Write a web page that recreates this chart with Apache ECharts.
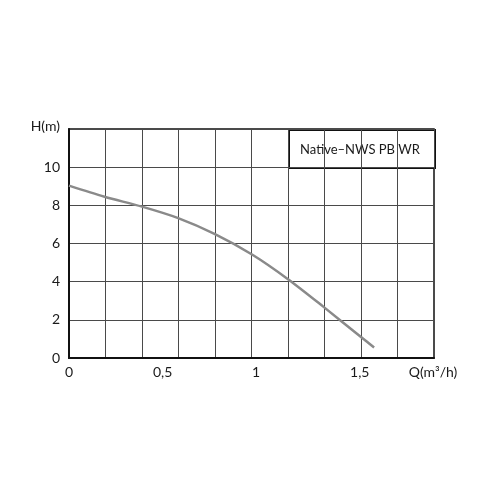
<!DOCTYPE html>
<html>
<head>
<meta charset="utf-8">
<script src="https://cdn.jsdelivr.net/npm/echarts@6/dist/echarts.min.js"></script>
<style>
html,body{margin:0;padding:0;background:#fff;}
#chart{width:500px;height:500px;}
</style>
</head>
<body>
<div id="chart"></div>
<script>
// Flow Q (m³/h) and head H (m) of the pump curve
const flowQ = [0, 0.19, 0.39, 0.58, 0.78, 0.98, 1.17, 1.36, 1.56, 1.63];
const headH = [9.03, 8.45, 7.93, 7.34, 6.49, 5.41, 4.13, 2.68, 1.10, 0.55];
const xTickLabels = {0: '0', 0.5: '0,5', 1: '1', 1.5: '1,5'};
const seriesName = 'Native–NWS PB WR';
const xName = 'Q(m³/h)';
const yName = 'H(m)';

const chart = echarts.init(document.getElementById('chart'), null, {renderer: 'canvas'});
const font = 'Lato';
const txt = '#1a1a1a';
chart.setOption({
  animation: false,
  backgroundColor: '#fff',
  grid: {left: 69, right: 66, top: 129, bottom: 142, show: true, borderColor: '#111', borderWidth: 1.5, backgroundColor: 'transparent'},
  xAxis: [
    {
      type: 'value', min: 0, max: 1.95, interval: 0.5,
      name: xName, nameLocation: 'end', nameGap: -1,
      nameTextStyle: {fontFamily: font, fontSize: 14, color: txt, align: 'center', verticalAlign: 'top', padding: [7, 0, 0, 0]},
      axisLine: {show: true, lineStyle: {color: '#111', width: 2}},
      axisTick: {show: false},
      splitLine: {show: false},
      axisLabel: {
        fontFamily: font, fontSize: 14, color: txt, margin: 7, showMaxLabel: false,
        formatter: v => v === 1.5 ? '{s|' + xTickLabels[v] + '}' : (xTickLabels[v] !== undefined ? xTickLabels[v] : ''),
        rich: {s: {fontFamily: font, fontSize: 14, color: txt, padding: [0, 0, 0, 20]}}
      }
    },
    {
      type: 'value', min: 0, max: 10, interval: 1, position: 'top',
      axisLine: {show: false}, axisTick: {show: false}, axisLabel: {show: false},
      splitLine: {show: true, lineStyle: {color: '#4a4a4a', width: 1}}
    }
  ],
  yAxis: {
    type: 'value', min: 0, max: 12, interval: 2,
    name: yName, nameLocation: 'end', nameGap: 3,
    nameTextStyle: {fontFamily: font, fontSize: 14, color: txt, align: 'right', verticalAlign: 'middle', padding: [0, 9, 0, 0]},
    axisLine: {show: true, lineStyle: {color: '#111', width: 2}},
    axisTick: {show: false},
    splitLine: {show: true, lineStyle: {color: '#4a4a4a', width: 1}},
    axisLabel: {fontFamily: font, fontSize: 14, color: txt, margin: 9, formatter: v => v === 12 ? '' : String(v)}
  },
  series: [{
    name: seriesName,
    type: 'line', xAxisIndex: 0,
    data: flowQ.map((q, i) => [q, headH[i]]),
    smooth: 0.3, showSymbol: false, symbol: 'none',
    lineStyle: {color: '#8a8a8a', width: 2.5},
    z: 3
  }],
  graphic: [{
    type: 'group', left: 288, top: 129, z: 10,
    children: [
      {type: 'rect', shape: {x: 0, y: 0, width: 146, height: 38}, style: {fill: '#fff', stroke: '#111', lineWidth: 2}},
      {type: 'text', x: 71, y: 20, style: {text: seriesName, fontFamily: font, fontSize: 13, fill: txt, align: 'center', verticalAlign: 'middle'}}
    ]
  }]
});
</script>
</body>
</html>
